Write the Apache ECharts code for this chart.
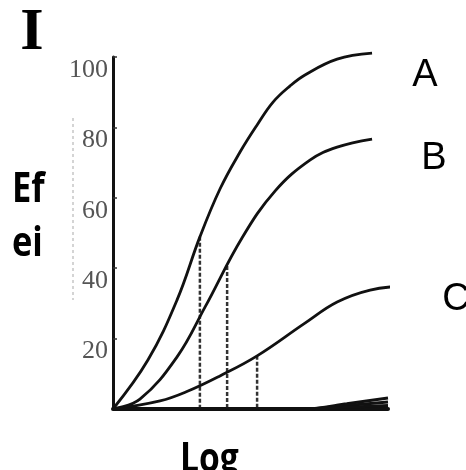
<!DOCTYPE html>
<html><head><meta charset="utf-8">
<script src="https://cdn.jsdelivr.net/npm/echarts@6/dist/echarts.min.js"></script>
<style>html,body{margin:0;padding:0;background:#fff}#c{width:466px;height:470px}</style>
</head><body><div id="c"></div>
<script>
// Y axis tick labels
const yTickLabels = [0, 20, 40, 60, 80, 100];
// Curve A (x = log dose, arbitrary units 0..10; y = effect %)
const xA = [0, 1.27, 2.33, 3.16, 3.89, 4.62, 5.24, 5.82, 6.44, 6.98, 8.15, 9.42];
const yA = [0, 13.9, 31.0, 48.9, 62.5, 73.0, 80.7, 87.2, 91.8, 94.9, 99.4, 101.1];
// Curve B
const xB = [0, 0.98, 2.33, 3.35, 4.69, 5.89, 7.16, 8.15, 9.42];
const yB = [0, 2.8, 14.8, 29.0, 48.6, 61.9, 70.7, 74.4, 76.7];
// Curve C
const xC = [0, 1.71, 2.73, 3.89, 5.24, 6.98, 8.15, 9.35, 10.55];
const yC = [0, 2.3, 5.1, 9.4, 15.1, 24.4, 30.4, 33.8, 34.9];
// Near-baseline curves (D)
const xD = [0, 7.0, 8.5, 10.0];
const yD1 = [0, 0, 1.5, 3.1];
const yD2 = [0, 0, 1.0, 2.0];
const yD3 = [0, 0, 0.5, 1.0];
// EC50 drop lines
const dropX = [3.16, 4.15, 5.24];
const dropY = [48.9, 40.6, 15.1];
const curveNames = ['A', 'B', 'C'];

const zip = (xs, ys) => xs.map((x, i) => [x, ys[i]]);
const lineStyle = { color: '#111', width: 2.8 };

const series = [
  { name: 'A', data: zip(xA, yA) },
  { name: 'B', data: zip(xB, yB) },
  { name: 'C', data: zip(xC, yC) },
].map(s => ({
  type: 'line', name: s.name, data: s.data, smooth: 0.4, showSymbol: false,
  clip: false, lineStyle: lineStyle, z: 3
}));
[yD1, yD2, yD3].forEach(yd => series.push({
  type: 'line', data: zip(xD, yd), smooth: 0.3, showSymbol: false, clip: false,
  lineStyle: { color: '#111', width: 3 }, z: 3
}));
dropX.forEach((x, i) => series.push({
  type: 'line', data: [[x, dropY[i]], [x, 0]], showSymbol: false,
  lineStyle: { color: '#333', width: 2.5, type: [4, 2] }, z: 2
}));

const chart = echarts.init(document.getElementById('c'), null, { renderer: 'canvas' });
chart.setOption({
  animation: false,
  backgroundColor: '#fff',
  grid: { left: 113, right: 78, top: 57, bottom: 61, containLabel: false },
  xAxis: {
    type: 'value', min: 0, max: 10,
    axisLine: { show: true, onZero: false, lineStyle: { color: '#111', width: 4 } },
    axisTick: { show: false }, axisLabel: { show: false }, splitLine: { show: false }
  },
  yAxis: {
    type: 'value', min: yTickLabels[0], max: yTickLabels[yTickLabels.length - 1], interval: 20,
    axisLine: { show: true, lineStyle: { color: '#111', width: 3 } },
    axisTick: { show: true, inside: true, length: 4, lineStyle: { color: '#333', width: 1.5 } },
    axisLabel: {
      showMinLabel: false, margin: 5, verticalAlign: 'top',
      fontFamily: 'Liberation Serif', fontSize: 26, color: '#555'
    },
    splitLine: { show: false }
  },
  series: series,
  graphic: [
    { type: 'line', shape: { x1: 73, y1: 118, x2: 73, y2: 300 },
      style: { stroke: '#aaa', lineWidth: 1, lineDash: [3, 3] } },
    { type: 'text', x: 32, y: 33, style: { text: 'I', font: 'bold 60px "Liberation Serif"', fill: '#000', align: 'center', verticalAlign: 'middle' } },
    { type: 'text', x: 12, y: 190, scaleX: 0.82, style: { text: 'Ef', font: 'bold 42px "Open Sans"', fill: '#000', align: 'left', verticalAlign: 'middle' } },
    { type: 'text', x: 12, y: 244, scaleX: 0.82, style: { text: 'ei', font: 'bold 42px "Open Sans"', fill: '#000', align: 'left', verticalAlign: 'middle' } },
    { type: 'text', x: 180, y: 460, scaleX: 0.8, style: { text: 'Log', font: 'bold 42px "Open Sans"', fill: '#000', align: 'left', verticalAlign: 'middle' } },
    { type: 'text', x: 425, y: 76, style: { text: curveNames[0], font: '38px "Liberation Sans"', fill: '#000', align: 'center', verticalAlign: 'middle' } },
    { type: 'text', x: 434, y: 159, style: { text: curveNames[1], font: '38px "Liberation Sans"', fill: '#000', align: 'center', verticalAlign: 'middle' } },
    { type: 'text', x: 456, y: 300, style: { text: curveNames[2], font: '38px "Liberation Sans"', fill: '#000', align: 'center', verticalAlign: 'middle' } }
  ]
});
</script>
</body></html>
